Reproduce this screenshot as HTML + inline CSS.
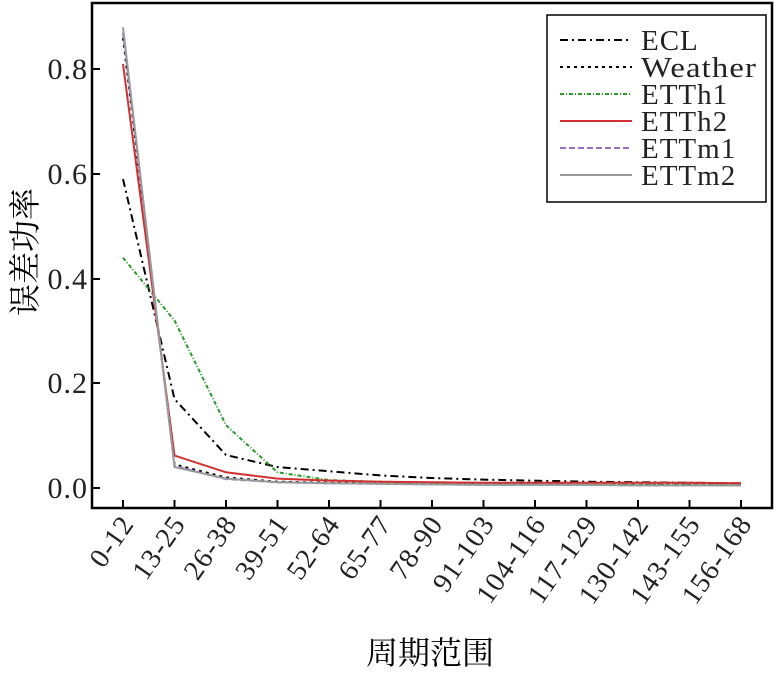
<!DOCTYPE html>
<html><head><meta charset="utf-8"><style>body{margin:0;background:#fff}</style></head><body>
<svg width="780" height="671" xmlns="http://www.w3.org/2000/svg" font-family="Liberation Serif, Noto Serif CJK SC, serif">
<rect x="92" y="3" width="680" height="505" fill="none" stroke="#000" stroke-width="2.5"/>
<g stroke="#000" stroke-width="2">
<line x1="92" y1="69" x2="100" y2="69"/><line x1="92" y1="174" x2="100" y2="174"/><line x1="92" y1="279" x2="100" y2="279"/><line x1="92" y1="383" x2="100" y2="383"/><line x1="92" y1="488" x2="100" y2="488"/>
</g>
<g font-size="30" text-anchor="end" fill="#222" letter-spacing="1">
<text x="88" y="79">0.8</text><text x="88" y="184">0.6</text><text x="88" y="289">0.4</text><text x="88" y="393">0.2</text><text x="88" y="498">0.0</text>
</g>
<g stroke="#000" stroke-width="2" id="xt"></g>
<g font-size="28" fill="#222" text-anchor="end" id="xl" letter-spacing="1"></g>
<text x="430" y="664" font-size="32" text-anchor="middle" font-family="Noto Serif CJK SC, serif">周期范围</text>
<text transform="translate(36,252) rotate(-90)" font-size="32" text-anchor="middle" font-family="Noto Serif CJK SC, serif">误差功率</text>
<g fill="none" stroke-width="2" id="series"></g>
<rect x="547" y="15" width="219" height="187" fill="#fff" stroke="#000" stroke-width="1.5"/>
<g stroke-width="2">
<line x1="560" y1="40" x2="632" y2="40" stroke="#000" stroke-dasharray="8,4,2,4"/>
<line x1="560" y1="67" x2="632" y2="67" stroke="#000" stroke-dasharray="3,4"/>
<line x1="560" y1="94" x2="632" y2="94" stroke="#2a9a2a" stroke-dasharray="4,2,1,2"/>
<line x1="560" y1="121" x2="632" y2="121" stroke="#d03030"/>
<line x1="560" y1="148" x2="632" y2="148" stroke="#9a70c0" stroke-dasharray="6,3"/>
<line x1="560" y1="175" x2="632" y2="175" stroke="#999"/>
</g>
<g font-size="29" fill="#222" letter-spacing="1">
<text x="641" y="50">ECL</text><text x="641" y="77" textLength="116" lengthAdjust="spacingAndGlyphs">Weather</text><text x="641" y="104">ETTh1</text><text x="641" y="131">ETTh2</text><text x="641" y="158">ETTm1</text><text x="641" y="185">ETTm2</text>
</g>
<script>
var labels=["0-12","13-25","26-38","39-51","52-64","65-77","78-90","91-103","104-116","117-129","130-142","143-155","156-168"];
var NS="http://www.w3.org/2000/svg";
function X(i){return 123+i*51.5}
function Y(v){return 488-523.5*v}
var xt=document.getElementById("xt"),xl=document.getElementById("xl");
labels.forEach(function(l,i){
 var ln=document.createElementNS(NS,"line");ln.setAttribute("x1",X(i));ln.setAttribute("x2",X(i));ln.setAttribute("y1",500);ln.setAttribute("y2",508);xt.appendChild(ln);
 var t=document.createElementNS(NS,"text");t.setAttribute("transform","translate("+(X(i)+12)+",524) rotate(-55)");t.textContent=l;xl.appendChild(t);
});
var S=[
["#000","8,4,2,4",[0.59,0.17,0.063,0.04,0.032,0.024,0.019,0.016,0.014,0.012,0.011,0.01,0.009]],
["#000","3,4",[0.86,0.045,0.02,0.012,0.01,0.009,0.008,0.007,0.007,0.006,0.006,0.006,0.005]],
["#2a9a2a","4,2,1,2",[0.44,0.32,0.12,0.03,0.015,0.012,0.01,0.009,0.008,0.008,0.007,0.007,0.007]],
["#d03030","",[0.81,0.062,0.03,0.018,0.014,0.012,0.011,0.01,0.01,0.01,0.01,0.01,0.009]],
["#9a70c0","6,3",[0.87,0.042,0.017,0.011,0.009,0.008,0.007,0.006,0.006,0.006,0.005,0.005,0.005]],
["#999","",[0.88,0.04,0.018,0.011,0.009,0.008,0.007,0.006,0.006,0.006,0.005,0.005,0.005]]];
var g=document.getElementById("series");
S.forEach(function(s){var p=document.createElementNS(NS,"polyline");p.setAttribute("points",s[2].map(function(v,i){return X(i)+","+Y(v)}).join(" "));p.setAttribute("stroke",s[0]);if(s[1])p.setAttribute("stroke-dasharray",s[1]);g.appendChild(p);});
</script>
</svg>
</body></html>
